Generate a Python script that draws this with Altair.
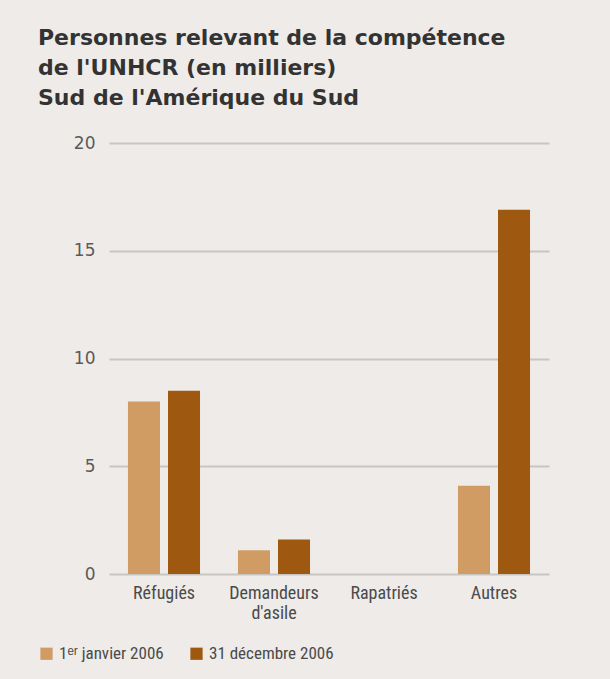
import altair as alt
import pandas as pd

categories = ["Réfugiés", "Demandeurs d'asile", "Rapatriés", "Autres"]
series = ["1ᵉʳ janvier 2006", "31 décembre 2006"]
jan_2006 = [8.0, 1.1, 0.0, 4.1]
dec_2006 = [8.5, 1.6, 0.0, 16.9]
y_ticks = [0, 5, 10, 15, 20]

rows = []
for c, a, b in zip(categories, jan_2006, dec_2006):
    rows.append({"cat": c, "series": series[0], "value": a})
    rows.append({"cat": c, "series": series[1], "value": b})
df = pd.DataFrame(rows)

label_font = "Liberation Sans Narrow, Roboto Condensed, Liberation Sans, sans-serif"

chart = alt.Chart(df).mark_bar().encode(
    x=alt.X("cat:N", sort=categories, title=None,
            scale=alt.Scale(paddingInner=0.345, paddingOuter=0.1725),
            axis=alt.Axis(labelAngle=0, ticks=False, domain=False, labelPadding=10,
                          labelFontSize=18, labelColor="#4a4a4a", labelFont=label_font,
                          labelExpr="split(datum.label, ' ')", labelLineHeight=20,
                          labelBaseline="top")),
    xOffset=alt.XOffset("series:N", sort=series,
                        scale=alt.Scale(paddingInner=0.2, paddingOuter=0)),
    y=alt.Y("value:Q", title=None,
            scale=alt.Scale(domain=[0, 20]),
            axis=alt.Axis(values=y_ticks, ticks=False, domain=False, grid=True,
                          gridColor="#c9c5c1", gridWidth=2, labelPadding=14,
                          labelFontSize=17, labelColor="#5a5a5a",
                          labelFont="DejaVu Sans")),
    color=alt.Color("series:N", sort=series,
                    scale=alt.Scale(domain=series, range=["#d09c64", "#9e5810"]),
                    legend=alt.Legend(title=None, orient="none", direction="horizontal",
                                      legendX=-71, legendY=502, symbolType="square",
                                      symbolSize=150, symbolStrokeWidth=0,
                                      labelFontSize=17, labelColor="#4a4a4a",
                                      labelFont=label_font, columnPadding=24,
                                      symbolOpacity=1)),
).properties(
    width=440,
    height=431,
    title=alt.Title(
        ["Personnes relevant de la compétence", "de l'UNHCR (en milliers)", "Sud de l'Amérique du Sud"],
        anchor="start", frame="group", dx=-71, offset=24, fontSize=22, fontWeight="bold",
        font="DejaVu Sans", color="#333333", lineHeight=30,
    ),
    autosize=alt.AutoSizeParams(type="none"),
    padding={"left": 109, "top": 143, "right": 61, "bottom": 105},
).configure(background="#eeebe8").configure_view(stroke=None)

chart.save("out.html", embed_options={"renderer": "svg", "actions": False})
